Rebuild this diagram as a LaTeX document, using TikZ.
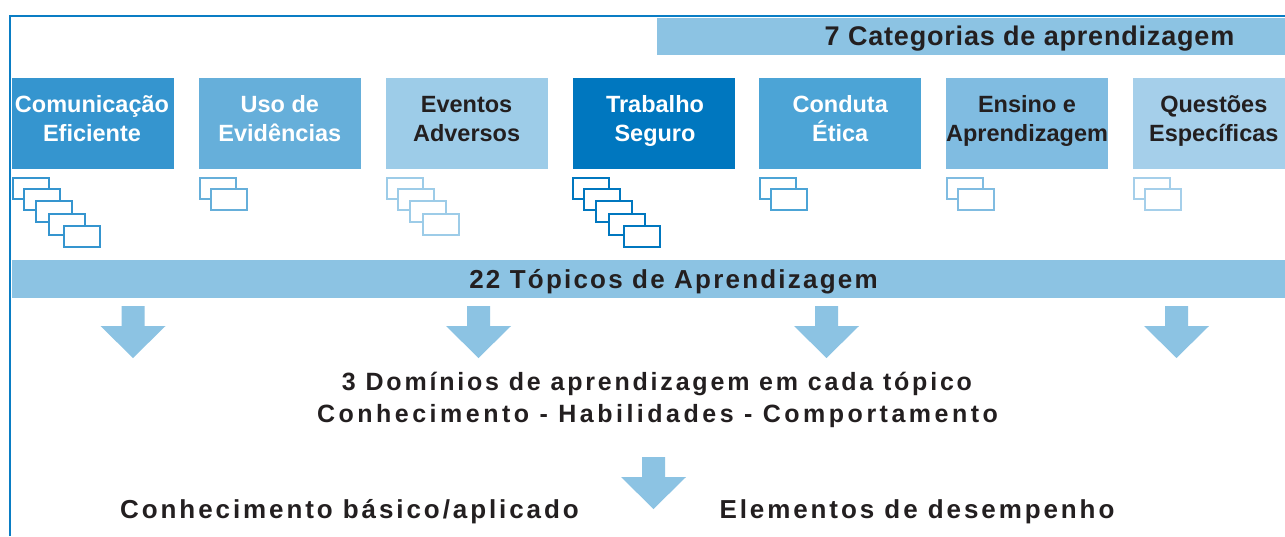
\documentclass[tikz,border=0pt]{standalone}
\usepackage{fontspec}
\setmainfont{Liberation Sans}
\newfontfamily\tkA[LetterSpace=3]{Liberation Sans}
\newfontfamily\tkB[LetterSpace=8.5]{Liberation Sans}
\newfontfamily\tkC[LetterSpace=11.2]{Liberation Sans}
\newfontfamily\tkD[LetterSpace=14]{Liberation Sans}
\newfontfamily\tkE[LetterSpace=11.2]{Liberation Sans}
\newcommand\topstrut{\rule{0pt}{24pt}}
\newcommand\botstrut{\rule[-8pt]{0pt}{8pt}}
\definecolor{frameblue}{HTML}{0A7DC4}
\definecolor{band}{HTML}{8CC3E3}
\definecolor{ink}{HTML}{231F20}
\definecolor{cA}{HTML}{3595CF}
\definecolor{cB}{HTML}{66AFDA}
\definecolor{cC}{HTML}{9DCCE8}
\definecolor{cD}{HTML}{0077BF}
\definecolor{cE}{HTML}{4CA4D6}
\definecolor{cF}{HTML}{80BCE1}
\definecolor{cG}{HTML}{A5CFEA}
\begin{document}
\begin{tikzpicture}[x=1pt,y=-1pt,
  catbox/.style={draw=none, minimum width=162pt, minimum height=91pt, inner sep=0pt, anchor=north west},
  cattext/.style={align=center, inner sep=0pt, font=\bfseries\fontsize{23.5}{29}\selectfont},
  stackrect/.style={line width=2pt, fill=white},
  bandbox/.style={fill=band, draw=none, inner sep=0pt, anchor=north west},
  heading/.style={anchor=base, inner sep=0pt, text=ink},
  blockarrow/.style={fill=band, draw=none}]
\clip (0,0) rectangle (1285,536);
\fill[white] (0,0) rectangle (1285,536);
% frame
\draw[frameblue, line width=2.5pt] (10,536) -- (10,16) -- (1285,16);
% top banner
\node[bandbox, minimum width=628pt, minimum height=37pt] (catband) at (657,18) {};
\node[heading, font=\tkA\bfseries\fontsize{27}{30}\selectfont] (cattitle) at (1029.5,45.5) {7 Categorias de aprendizagem};
% category boxes
\node[catbox, fill=cA] (c1) at (12,78) {};
\node[catbox, fill=cB] (c2) at (198.8,78) {};
\node[catbox, fill=cC] (c3) at (385.6,78) {};
\node[catbox, fill=cD] (c4) at (572.4,78) {};
\node[catbox, fill=cE] (c5) at (759.2,78) {};
\node[catbox, fill=cF] (c6) at (946,78) {};
\node[catbox, fill=cG] (c7) at (1132.8,78) {};
\node[cattext, text=white] (t1) at (92,119) {\topstrut Comunicação\\Eficiente\botstrut};
\node[cattext, text=white] (t2) at (279.8,119) {\topstrut Uso de\\Evidências\botstrut};
\node[cattext, text=ink] (t3) at (466.6,119) {\topstrut Eventos\\Adversos\botstrut};
\node[cattext, text=white] (t4) at (655,119) {\topstrut Trabalho\\Seguro\botstrut};
\node[cattext, text=white] (t5) at (840.2,119) {\topstrut Conduta\\Ética\botstrut};
\node[cattext, text=ink] (t6) at (1027,119) {\topstrut Ensino e\\Aprendizagem\botstrut};
\node[cattext, text=ink] (t7) at (1213.8,119) {\topstrut Questões\\Específicas\botstrut};
% topic stacks
\foreach \bx/\col/\lst in {
   12/cA/{0/177,11/188,23/200,36/212.5,51/225},
   198.8/cB/{0/177,11/188},
   385.6/cC/{0/177,11/188,23/200,36/212.5},
   572.4/cD/{0/177,11/188,23/200,36/212.5,51/225},
   759.2/cE/{0/177,11/188},
   946/cF/{0/177,11/188},
   1132.8/cG/{0/177,11/188}}{
  \foreach \dx/\dy in \lst {
    \draw[stackrect, draw=\col] ({\bx+\dx+1},{\dy+1}) rectangle ++(36,21);
  }
}
% topics band
\node[bandbox, minimum width=1273pt, minimum height=38pt] (topband) at (12,260) {};
\node[heading, font=\tkB\bfseries\fontsize{26}{28}\selectfont] (toptitle) at (673.5,288.3) {22 Tópicos de Aprendizagem};
% arrows
\foreach \cx in {133,478.5,826.5,1176.5}{
  \fill[blockarrow] (\cx-11.5,306) -- (\cx+11.5,306) -- (\cx+11.5,326) -- (\cx+32.5,326)
     -- (\cx,358) -- (\cx-32.5,326) -- (\cx-11.5,326) -- cycle;
}
% domains
\node[heading, font=\tkC\bfseries\fontsize{25}{28}\selectfont] (dom1) at (657,390) {3 Domínios de aprendizagem em cada tópico};
\node[heading, font=\tkD\bfseries\fontsize{25}{28}\selectfont] (dom2) at (657.5,422) {Conhecimento - Habilidades - Comportamento};
% bottom arrow
\fill[blockarrow] (642,457) -- (665,457) -- (665,477) -- (686,477) -- (653.5,509) -- (621,477) -- (642,477) -- cycle;
% bottom texts
\node[heading, font=\tkE\bfseries\fontsize{26}{28}\selectfont] (know) at (349.5,518.5) {Conhecimento básico/aplicado};
\node[heading, font=\tkE\bfseries\fontsize{26}{28}\selectfont] (perf) at (917,518.5) {Elementos de desempenho};
\end{tikzpicture}
\end{document}
